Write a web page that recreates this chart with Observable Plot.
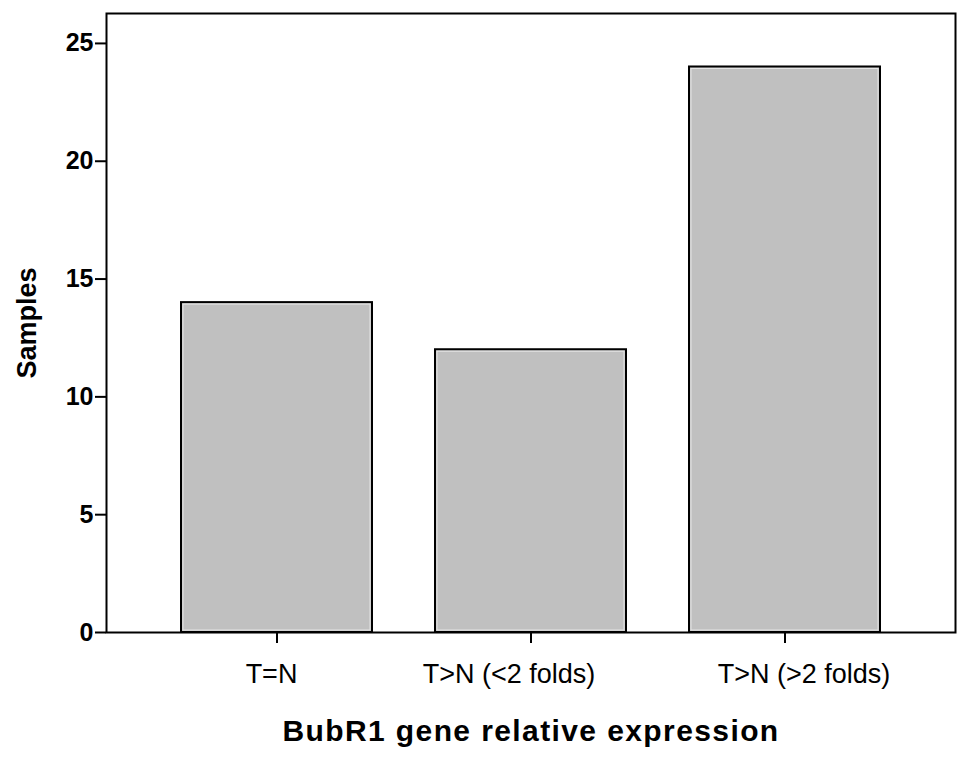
<!DOCTYPE html>
<html>
<head>
<meta charset="utf-8">
<script src="https://cdn.jsdelivr.net/npm/d3@7"></script>
<script src="https://cdn.jsdelivr.net/npm/@observablehq/plot@0.6"></script>
<style>
  html, body { margin: 0; padding: 0; background: #fff; }
  #chart svg { display: block; font-family: "Liberation Sans", Arial, Helvetica, sans-serif; color: #000; }
</style>
</head>
<body>
<div id="chart"></div>
<script>
const categories = ["T=N", "T>N (<2 folds)", "T>N (>2 folds)"];
const samples = [14, 12, 24];
const yTicks = [0, 5, 10, 15, 20, 25];
const xTitle = "BubR1 gene relative expression";
const yTitle = "Samples";

const data = categories.map((c, i) => ({category: c, value: samples[i]}));
// label nudges seen in the original figure (px)
const labelShift = [-5.5, -22, 19];

const chart = Plot.plot({
  width: 969,
  height: 764,
  marginLeft: 106,
  marginRight: 14,
  marginTop: 13,
  marginBottom: 132,
  style: {background: "#fff", color: "#000", fontFamily: "Liberation Sans, Arial, sans-serif"},
  x: {domain: categories, paddingInner: 0.25, paddingOuter: 0.293, label: null},
  y: {domain: [0, 26.27], label: null},
  marks: [
    Plot.barY(data, {x: "category", y: "value", fill: "#c0c0c0", stroke: "#000", strokeWidth: 2}),
    Plot.barY(data, {x: "category", y: "value", fill: "none", stroke: "#e4e4e4", strokeWidth: 1, inset: 2}),
    Plot.frame({stroke: "#000", strokeWidth: 2}),
    Plot.axisY({ticks: yTicks, tickSize: 11, tickFormat: () => "", label: null, strokeWidth: 2}),
    Plot.text(yTicks, {y: d => d, text: d => String(d), frameAnchor: "left", textAnchor: "end", dx: -13, fontSize: 25, fontWeight: "bold"}),
    Plot.axisX({tickSize: 11, tickFormat: () => "", label: null, strokeWidth: 2}),
    ...categories.map((c, i) => Plot.text([c], {x: d => d, text: d => d, frameAnchor: "bottom", lineAnchor: "top", dy: 31, dx: labelShift[i], fontSize: 27})),
    Plot.text([xTitle], {frameAnchor: "bottom", dy: 108, fontSize: 30, fontWeight: "bold", text: d => d, className: "xtitle"}),
    Plot.text([yTitle], {frameAnchor: "left", textAnchor: "middle", dx: -79, rotate: -90, fontSize: 27, fontWeight: "bold", text: d => d})
  ]
});
d3.select(chart).selectAll(".xtitle text").style("letter-spacing", "1.4px");
document.getElementById("chart").appendChild(chart);
</script>
</body>
</html>
